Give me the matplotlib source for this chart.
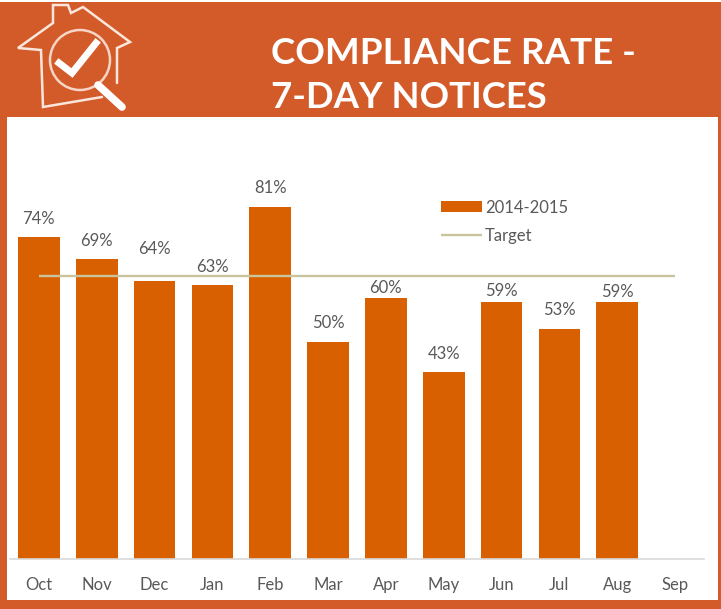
import matplotlib
matplotlib.use('Agg')
import matplotlib.pyplot as plt
from matplotlib.patches import Circle, Rectangle

W, H = 721, 609

months = ['Oct', 'Nov', 'Dec', 'Jan', 'Feb', 'Mar', 'Apr', 'May', 'Jun', 'Jul', 'Aug', 'Sep']
rates = [74, 69, 64, 63, 81, 50, 60, 43, 59, 53, 59, None]
target = [65] * 12

ORANGE = '#D35B2A'
BAR = '#D96000'
TARGET = '#C9C39E'
TEXT = '#595959'

plt.rcParams['font.family'] = ['Lato', 'DejaVu Sans']

fig = plt.figure(figsize=(W / 100, H / 100), dpi=100, facecolor=ORANGE)

# background layer in pixel coords, y going down
bg = fig.add_axes([0, 0, 1, 1])
bg.set_xlim(0, W)
bg.set_ylim(H, 0)
bg.axis('off')
bg.add_patch(Rectangle((0, 0), W, 2, color='white', lw=0))
bg.add_patch(Rectangle((7, 117), 711, 483, color='white', lw=0))

# house icon
icon = dict(color='#FBE6DC', lw=1.8, solid_joinstyle='miter', solid_capstyle='round')
bg.plot([102, 43, 41, 18, 53, 53, 68, 71, 83, 130, 117, 117],
        [97, 107, 50, 48, 23, 5, 5, 13, 7, 42, 48, 83], **icon)
bg.add_patch(Circle((80, 60), 30, fill=False, ec='#F5D5C6', lw=1.8))
bg.plot([98, 122], [85, 107], color='white', lw=5.5, solid_capstyle='round')
bg.plot([59, 72, 96], [63, 73, 43], color='white', lw=5, solid_joinstyle='miter')

bg.text(271, 53, 'COMPLIANCE RATE -', color='white', fontsize=26.5, fontweight='bold',
        va='center', ha='left')
bg.text(271, 97, '7-DAY NOTICES', color='white', fontsize=26.3, fontweight='bold',
        va='center', ha='left')

# chart, baseline at y=559, x from 10 to 704
ax = fig.add_axes([10 / W, 1 - 559 / H, 694 / W, 440 / H])
ax.patch.set_alpha(0)
x = list(range(len(months)))
bars = ax.bar(x[:11], rates[:11], width=0.72, color=BAR, label='2014-2015')
line, = ax.plot(x, target, color=TARGET, lw=1.7, label='Target', solid_capstyle='butt')
ax.set_xlim(-0.5, 11.5)
ax.set_ylim(0, 101.2)

# some labels were moved by hand in the original to clear the target line (px)
nudge = {2: 13, 6: -8, 8: -7, 10: -8}
for i, (rect, v) in enumerate(zip(bars, rates)):
    ax.annotate('%d%%' % v, (rect.get_x() + rect.get_width() / 2, v),
                xytext=(0, (10.4 + nudge.get(i, 0)) * 0.72), textcoords='offset points',
                ha='center', va='bottom', color=TEXT, fontsize=12)

ax.set_xticks(x)
ax.set_xticklabels(months, color=TEXT, fontsize=12)
ax.tick_params(axis='x', length=0, pad=13)
ax.set_yticks([])
for side in ['top', 'left', 'right']:
    ax.spines[side].set_visible(False)
ax.spines['bottom'].set_color('#D9D9D9')
ax.spines['bottom'].set_linewidth(1.2)

ax.legend([bars, line], ['2014-2015', 'Target'], loc='upper left',
          bbox_to_anchor=(431 / 694, 0.817), frameon=False, fontsize=12, labelcolor=TEXT,
          handlelength=2.45, handleheight=0.62, handletextpad=0.2, labelspacing=0.72,
          borderpad=0, borderaxespad=0)

fig.savefig('out.png', dpi=100, facecolor=ORANGE)
